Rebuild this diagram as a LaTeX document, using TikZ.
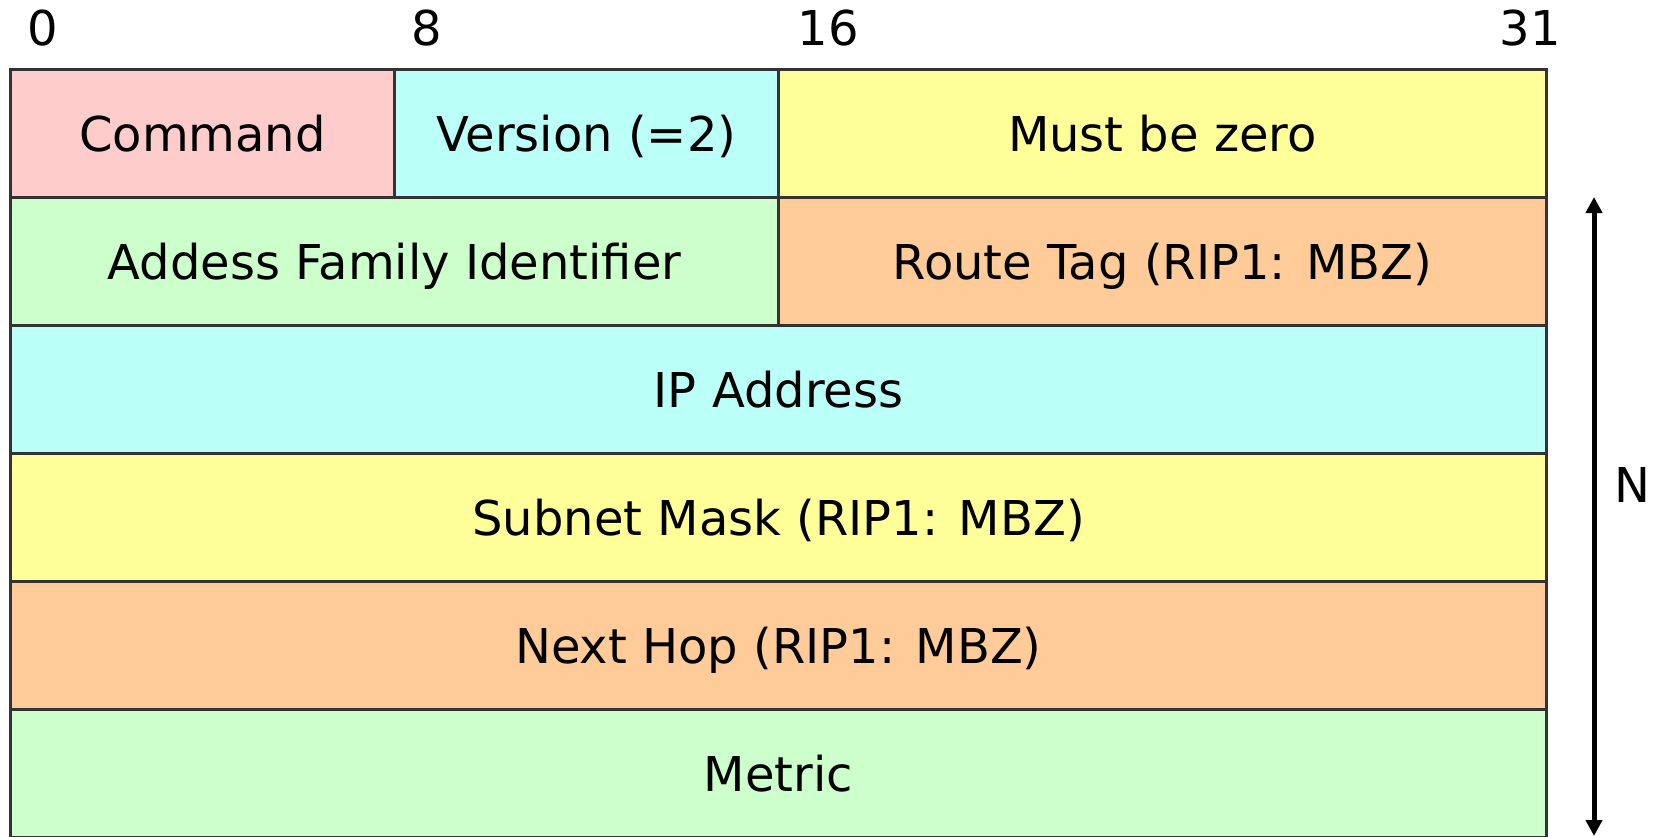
\documentclass[tikz,border=0pt]{standalone}
\usepackage{fontspec}
\setmainfont{DejaVu Sans}
\usetikzlibrary{arrows.meta}
\definecolor{cpink}{RGB}{255,204,204}
\definecolor{ccyan}{RGB}{187,255,249}
\definecolor{cyellow}{RGB}{255,255,153}
\definecolor{cgreen}{RGB}{204,255,204}
\definecolor{corange}{RGB}{255,204,153}
\definecolor{cborder}{RGB}{51,51,51}
\tikzset{
  field/.style={draw=cborder, line width=1.5pt, inner sep=0pt, outer sep=0pt,
    minimum height=64pt, text=black, font=\fontsize{24}{28}\selectfont,
    text height=18.2pt, text depth=0pt},
  byte/.style={field, minimum width=192pt},
  half/.style={field, minimum width=384pt},
  word/.style={field, minimum width=768pt},
  bitlabel/.style={inner sep=0pt, font=\fontsize{24}{28}\selectfont},
}
\begin{document}
\begin{tikzpicture}[x=0.5pt, y=-0.5pt]
\useasboundingbox (0,0) rectangle (1653,836);
% bit labels
\node[bitlabel] (b0) at (43,28) {0};
\node[bitlabel] (b8) at (427,28) {8};
\node[bitlabel] (b16) at (828,28) {16};
\node[bitlabel] (b31) at (1530,28) {31};
% row 1
\node[byte, fill=cpink] (cmd) at (202.5,133) {Command};
\node[byte, fill=ccyan] (ver) at (586.5,133) {Version (=2)};
\node[half, fill=cyellow] (mbz) at (1162.5,133) {Must be zero};
% row 2
\node[half, fill=cgreen] (afi) at (394.5,261) {Addess Family Identifier};
\node[half, fill=corange] (tag) at (1162.5,261) {Route Tag (RIP1: MBZ)};
% rows 3-6
\node[word, fill=ccyan] (ip) at (778.5,389) {IP Address};
\node[word, fill=cyellow] (mask) at (778.5,517) {Subnet Mask (RIP1: MBZ)};
\node[word, fill=corange] (hop) at (778.5,645) {Next Hop (RIP1: MBZ)};
\node[word, fill=cgreen] (metric) at (778.5,773) {Metric};
% N arrow
\coordinate (ntop) at (1594,197);
\coordinate (nbot) at (1594,836);
\draw[line width=2.5pt, {Triangle[width=8pt,length=8pt]}-{Triangle[width=8pt,length=8pt]}] (ntop) -- (nbot);
\node[bitlabel] (nlab) at (1632,485) {N};
\end{tikzpicture}
\end{document}
